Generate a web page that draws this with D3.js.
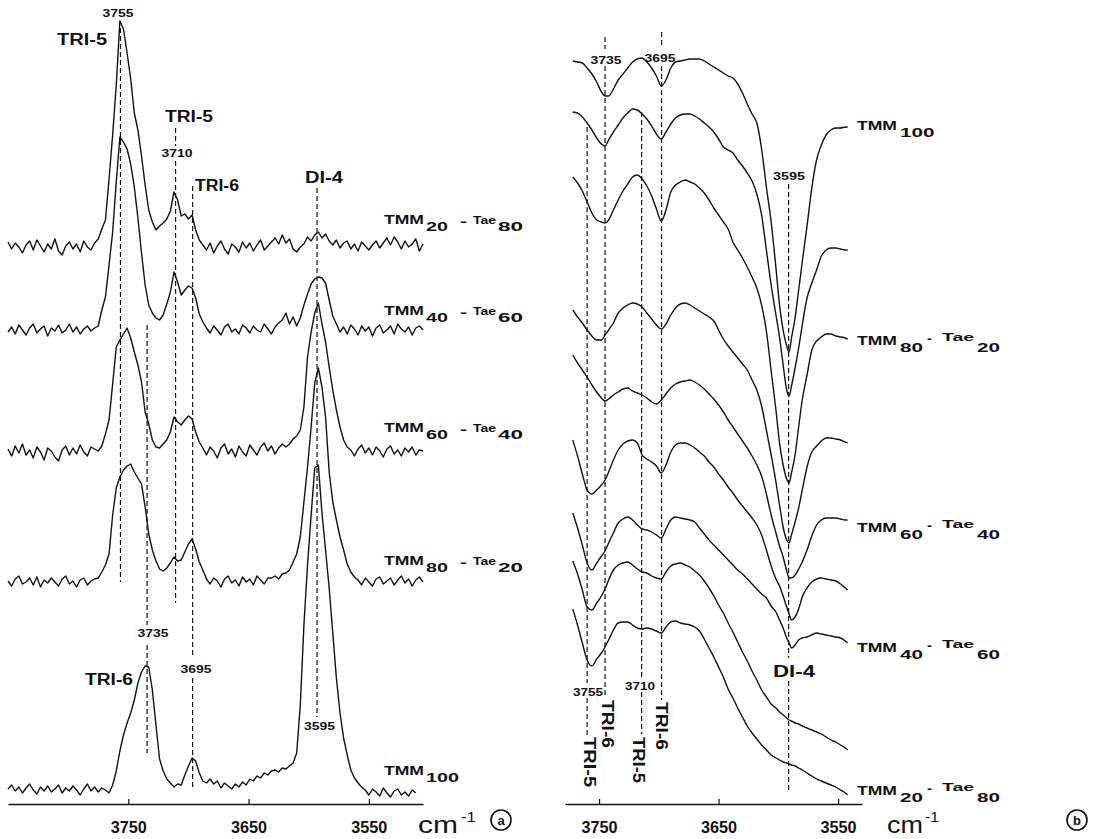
<!DOCTYPE html>
<html>
<head>
<meta charset="utf-8">
<script src="https://cdn.jsdelivr.net/npm/d3@7"></script>
<style>
  body { margin: 0; background: #fff; }
  svg { display: block; }
  text { font-family: "Liberation Sans", Arial, sans-serif; fill: #111; }
</style>
</head>
<body>
<script>
// ---- panel (a): absorbance spectra, heights above each trace's own baseline
const waveA = [3850,3847,3844,3841,3838,3835,3832,3829,3826,3823,
  3820,3817,3814,3811,3808,3805,3802,3799,3796,3793,
  3790,3787,3784,3781,3778,3775,3772,3769,3766,3763,
  3760,3757,3754,3751,3748,3745,3742,3739,3736,3733,
  3730,3727,3724,3721,3718,3715,3712,3709,3706,3703,
  3700,3697,3694,3691,3688,3685,3682,3679,3676,3673,
  3670,3667,3664,3661,3658,3655,3652,3649,3646,3643,
  3640,3637,3634,3631,3628,3625,3622,3619,3616,3613,
  3610,3607,3604,3601,3598,3595,3592,3589,3586,3583,
  3580,3577,3574,3571,3568,3565,3562,3559,3556,3553,
  3550,3547,3544,3541,3538,3535,3532,3529,3526,3523,
  3520,3517,3514,3511,3508,3505];

const tmm20A = [5,-2,4,0,-6,2,6,-3,7,1, -5,3,-2,8,-4,-8,1,5,-2,3, -5,6,0,-3,4,
  8,18,27,68,112,162,226,218,194,168, 134,117,91,62,37,25,17,21,24,28, 36,55,47,31,33,28,32,17,7,
  2,-3,4,-6,1,6,-2,-7,3,0, -5,5,-1,4,-4,2,7,-3,1,5, 9,3,12,4,8,-2,-5,0,3,10,
  6,12,15,9,13,6,2,7,-1,4, 6,-2,3,-4,5,1,-3,2,6,-1, 4,9,2,10,5,-2,6,0,3,8, -4,3];
const tmm40A = [-2,3,-4,5,0,-5,2,6,-3,1, 4,-6,2,-1,5,-3,0,6,-2,3, -4,1,4,-1,2,
  4,20,33,65,98,148,193,188,181,166, 143,112,77,45,25,17,12,10,15,26, 38,58,48,35,40,44,42,32,16,8,2,
  -3,4,0,-5,3,6,-2,1,-4,5, 2,-3,4,0,-2,6,1,-4,3,7,
  10,17,6,13,4,12,25,36,46,51, 53,52,47,30,14,6,-2,3,-4,5,
  1,-5,4,-1,3,-6,2,5,-3,0, 4,-4,6,1,-2,3,-5,2,4,0];
const tmm60A = [3,-4,6,-1,8,-3,2,-6,5,0, -8,4,1,-5,-9,2,6,-3,4,-2, 7,0,-4,5,3,1,
  6,18,32,68,105,112,118,124,114,100, 87,70,40,28,12,5,4,8,12,20, 35,30,27,32,36,33,20,10,4,
  -3,5,1,-6,4,8,-2,3,-5,6, 0,-4,7,2,-3,5,9,1,6,-2, 4,8,5,
  8,13,16,22,45,95,120,139,149,128, 110,85,62,42,25,12,5,
  2,-4,3,7,-1,4,-3,5,1,-5, 3,6,-2,2,-4,4,0,5,-3,2, 1];
const tmm80A = [1,-4,3,6,-2,0,4,-3,5,-5, 2,-1,4,0,-4,3,6,-2,1,-5, 2,4,-3,1,3,
  4,10,17,28,67,94,105,112,116,118, 110,104,98,75,48,32,21,13,11,14, 19,25,21,22,30,38,43,33,20,12, 3,
  -2,4,1,-5,3,6,-1,2,-4,5, 0,3,-3,6,2,-2,4,
  4,6,3,8,9,12,20,28,45,80, 115,155,199,214,195,165,110,80,62,45, 32,18,10,5,
  2,-3,4,0,-4,3,5,-2,1,4, -3,2,6,-1,3,-4,2,5,0];
const tmm100A = [4,8,2,6,0,5,9,3,-1,6, 2,7,1,4,8,0,5,2,7,3, -2,4,9,2,6,1,5,3,0,
  8,22,42,58,70,80,93,110,121,127, 126,103,68,34,22,14,10,6,9,8, 18,27,35,32,20,12,10,14,9,12,
  5,10,7,4,9,6,11,8,14,12, 17,15,20,18,22,23,21,25,24,27, 30,
  40,88,168,228,278,325,328,280,243,205, 160,115,80,55,38,23,15,10,6,
  3,-2,4,1,-3,5,0,-4,2,4, -2,1,-3,3,0];
const offsetA = [557, 474, 352, 222, 11];
const sampleA = [["20","80"],["40","60"],["60","40"],["80","20"],["100",null]];

// ---- panel (b): transmission spectra (stacked as drawn)
const waveB = [3772,3768,3764,3760,3756,3752,3748,3745,3742,3738,
  3734,3730,3726,3722,3718,3714,3710,3706,3702,3698,
  3694,3690,3686,3682,3678,3674,3670,3666,3662,3658,
  3654,3650,3646,3642,3638,3634,3630,3626,3622,3618,
  3614,3610,3606,3602,3599,3596,3593,3591,3589,3586,
  3583,3580,3576,3572,3568,3564,3560,3556,3552,3548,3544,3542];
const b1 = [743,742,741,736,730,722,712,708,708,715, 724,730,736,742,745,746,742,736,728,718,
  724,736,742,743,744,745,745,745,743,740, 737,734,731,728,726,720,711,700,690,681,
  655,617,582,536,499,474,458,452,466,486, 514,542,578,616,644,659,669,674,676,676, 677,677];
const b2 = [692,691,687,681,674,666,660,658,664,672, 679,686,691,695,694,690,685,678,670,665,
  672,680,686,689,690,690,688,685,681,677, 672,665,657,654,651,644,638,631,623,610,
  589,554,519,489,467,439,414,408,418,436, 456,479,506,521,534,548,554,556,556,555, 554,554];
const b3 = [627,621,613,602,591,584,582,581,584,594, 604,613,620,627,629,625,618,608,595,583,
  594,612,619,622,624,622,620,616,611,604, 596,589,582,575,562,554,546,537,527,516,
  499,473,433,394,361,339,325,321,331,349, 377,404,429,454,463,467,470,470,468,467, 466,465];
const b4 = [494,487,481,474,468,464,464,469,474,481, 491,496,499,501,500,497,491,485,479,475,
  480,489,496,500,501,499,496,493,490,487, 483,474,465,458,452,446,440,434,424,414,
  398,374,349,322,299,277,264,261,269,282, 296,314,337,352,358,363,366,366,365,364, 362,361];
const b5 = [449,441,434,427,419,412,406,403,405,409, 412,415,416,413,411,409,406,402,400,404,
  410,416,420,422,423,424,422,419,415,410, 405,399,392,384,377,370,363,356,348,339,
  328,310,289,271,258,247,233,226,226,229, 235,242,254,268,279,284,286,286,286,285, 284,284];
const b6 = [364,348,330,314,310,314,319,324,332,344, 354,360,363,364,361,349,345,342,338,331,
  339,352,359,361,361,359,356,352,348,342, 337,330,324,317,311,304,298,292,286,279,
  269,254,238,225,218,208,197,190,184,187, 195,207,216,222,225,226,225,224,223,220, 216,214];
const b7 = [291,276,259,241,234,241,248,253,261,271, 281,285,287,284,279,275,274,272,269,266,
  275,284,287,286,285,284,282,276,270,264, 259,254,249,244,239,234,230,225,220,215,
  210,206,198,192,184,176,166,161,156,159, 164,166,167,169,171,170,169,168,167,166, 163,161];
const b8 = [243,230,214,197,194,201,208,215,224,234, 239,241,242,239,235,232,231,228,226,225,
  232,238,240,241,239,237,233,229,223,216, 208,199,191,181,172,162,152,143,133,124,
  114,107,100,96,92,89,86,84,83,81, 80,78,76,74,72,70,67,64,62,59, 56,54];
const b9 = [195,179,161,144,138,145,151,157,164,174, 181,182,182,179,176,175,176,175,173,171,
  177,182,183,181,180,179,177,173,165,156, 147,137,127,115,106,96,87,78,71,65,
  59,54,49,46,44,42,41,40,39,38, 36,34,31,28,25,23,21,19,17,14, 11,9];
const sampleB = [["100",null],["80","20"],["60","40"],["40","60"],["20","80"]];

const tickWaves = [3750, 3650, 3550];
// band marker lines, as positioned in each panel
const marksA = [3756.5, 3734.4, 3710.7, 3696.5, 3593.1];
const marksB = [3760, 3745, 3714.4, 3697.7, 3591.4];

// ---- layout
const W = 1099, H = 839;
const svg = d3.select("body").append("svg").attr("width", W).attr("height", H);

const xA = d3.scaleLinear().domain([3850, 3505]).range([8, 423]);
const xB = d3.scaleLinear().domain([3778.5, 3530]).range([565, 862]);
const y = d3.scaleLinear().domain([0, 800]).range([804, 4]);

function txt(g, x, yy, s, size, len, opts = {}) {
  const t = g.append("text").attr("x", x).attr("y", yy)
    .attr("font-size", size)
    .attr("font-weight", opts.weight || "bold")
    .attr("text-anchor", opts.anchor || "start")
    .text(s);
  if (len) t.attr("textLength", len).attr("lengthAdjust", "spacingAndGlyphs");
  return t;
}

function dashed(g, x, segs) {
  segs.forEach(s => {
    g.append("line").attr("x1", x).attr("x2", x).attr("y1", s[0]).attr("y2", s[1])
      .attr("stroke", "#111").attr("stroke-width", 1.2).attr("stroke-dasharray", "5,3");
  });
}

function axis(g, x) {
  const ax = d3.axisBottom(x).tickValues(tickWaves).tickFormat(d3.format("d"))
    .tickSize(-5).tickSizeOuter(0).tickPadding(18);
  const a = g.append("g").attr("transform", "translate(0,804)").call(ax);
  a.select(".domain").attr("stroke", "#111").attr("stroke-width", 1.6);
  a.selectAll(".tick line").attr("stroke", "#111").attr("stroke-width", 1.2);
  a.selectAll(".tick text").attr("font-size", 16).attr("font-weight", "bold")
    .attr("fill", "#111").attr("font-family", "Liberation Sans, Arial, sans-serif")
    .attr("textLength", 36).attr("lengthAdjust", "spacingAndGlyphs");
}

// ================= panel (a)
const gA = svg.append("g");
const specA = [tmm20A, tmm40A, tmm60A, tmm80A, tmm100A];
specA.forEach((s, k) => {
  const line = d3.line().x((d, i) => xA(waveA[i])).y(d => y(d + offsetA[k]));
  gA.append("path").attr("d", line(s)).attr("fill", "none")
    .attr("stroke", "#111").attr("stroke-width", 1.4).attr("stroke-linejoin", "round");
});

const segA = [[[28, 582]], [[325, 625], [645, 753]], [[128, 146], [161, 603]],
  [[186, 657], [678, 788]], [[188, 717]]];
marksA.forEach((w, k) => dashed(gA, xA(w), segA[k]));

axis(gA, xA);

// sample labels (a)
const baseA = [224, 315, 432, 565, 775];
sampleA.forEach((p, k) => {
  const x0 = 384, yb = baseA[k];
  txt(gA, x0, yb, "TMM", 12.5, 40);
  txt(gA, x0 + 42, yb + 6.5, p[0], 13.5, p[0].length * 11);
  if (p[1]) {
    txt(gA, x0 + 76, yb + 2, "-", 12, 7);
    txt(gA, x0 + 89, yb, "Tae", 11.5, 23);
    txt(gA, x0 + 114, yb + 6.5, p[1], 13.5, 25);
  }
});

// band labels (a)
txt(gA, 118, 17, "3755", 11, 31, {anchor: "middle"});
txt(gA, 57, 45, "TRI-5", 16, 50);
txt(gA, 165, 122, "TRI-5", 16, 48);
txt(gA, 177, 157, "3710", 11, 31, {anchor: "middle"});
txt(gA, 195, 191, "TRI-6", 16, 44);
txt(gA, 305, 183, "DI-4", 16, 38);
txt(gA, 153, 637, "3735", 11, 31, {anchor: "middle"});
txt(gA, 196, 673, "3695", 11, 31, {anchor: "middle"});
txt(gA, 85, 685, "TRI-6", 16, 48);
txt(gA, 319.5, 730, "3595", 11, 31, {anchor: "middle"});

txt(gA, 418, 833, "cm", 24, 40, {weight: "normal"});
txt(gA, 461, 822, "-1", 14, 15, {weight: "normal"});
gA.append("circle").attr("cx", 501).attr("cy", 820).attr("r", 10)
  .attr("fill", "none").attr("stroke", "#111").attr("stroke-width", 1.6);
txt(gA, 501, 825, "a", 13, null, {anchor: "middle"});

// ================= panel (b)
const gB = svg.append("g");
const specB = [b1, b2, b3, b4, b5, b6, b7, b8, b9];
const lineB = d3.line().x((d, i) => xB(waveB[i])).y(d => y(d)).curve(d3.curveMonotoneX);
specB.forEach(s => {
  gB.append("path").attr("d", lineB(s)).attr("fill", "none")
    .attr("stroke", "#111").attr("stroke-width", 1.4).attr("stroke-linejoin", "round");
});

const segB = [[[127, 683], [698, 736]], [[37, 49], [66, 698]], [[112, 678], [692, 734]],
  [[32, 48], [66, 700]], [[184, 658], [681, 792]]];
marksB.forEach((w, k) => dashed(gB, xB(w), segB[k]));

axis(gB, xB);

const baseB = [130, 345, 532, 652, 795];
sampleB.forEach((p, k) => {
  const x0 = 857, yb = baseB[k];
  txt(gB, x0, yb, "TMM", 12.5, 40);
  txt(gB, x0 + 43, yb + 7, p[0], 13.5, p[0].length * 11.5);
  if (p[1]) {
    txt(gB, x0 + 70, yb - 2, "-", 12, 5);
    txt(gB, x0 + 85, yb - 4, "Tae", 11, 32);
    txt(gB, x0 + 120, yb + 7, p[1], 13.5, 23);
  }
});

txt(gB, 606, 64, "3735", 11, 31, {anchor: "middle"});
txt(gB, 660, 62, "3695", 11, 31, {anchor: "middle"});
txt(gB, 789, 180, "3595", 11, 32, {anchor: "middle"});
txt(gB, 588, 696, "3755", 11, 30, {anchor: "middle"});
txt(gB, 640, 690, "3710", 11, 30, {anchor: "middle"});
txt(gB, 773, 677, "DI-4", 16, 42);

const rotB = [["TRI-5", 589, 762, 50], ["TRI-6", 607, 724, 48], ["TRI-5", 638, 760, 46], ["TRI-6", 661, 726, 48]];
rotB.forEach(r => {
  gB.append("text").attr("transform", `translate(${r[1]},${r[2]}) rotate(90)`)
    .attr("text-anchor", "middle").attr("dominant-baseline", "central")
    .attr("font-size", 16).attr("font-weight", "bold")
    .attr("textLength", r[3]).attr("lengthAdjust", "spacingAndGlyphs")
    .text(r[0]);
});

txt(gB, 887, 833, "cm", 24, 36, {weight: "normal"});
txt(gB, 925, 822, "-1", 14, 14, {weight: "normal"});
gB.append("circle").attr("cx", 1077).attr("cy", 820).attr("r", 10)
  .attr("fill", "none").attr("stroke", "#111").attr("stroke-width", 1.6);
txt(gB, 1077, 825, "b", 13, null, {anchor: "middle"});
</script>
</body>
</html>
